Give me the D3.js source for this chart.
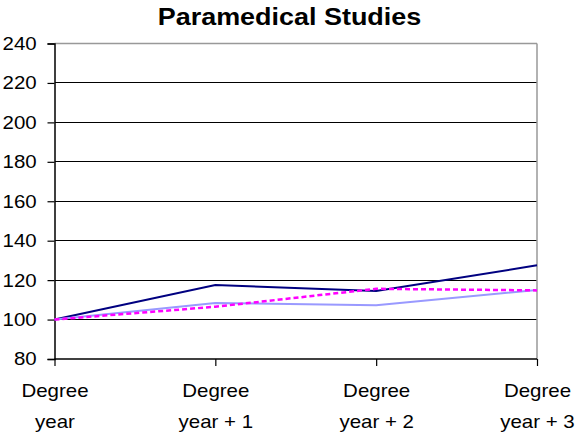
<!DOCTYPE html>
<html>
<head>
<meta charset="utf-8">
<script src="https://cdn.jsdelivr.net/npm/d3@7"></script>
<style>
html,body{margin:0;padding:0;background:#fff;}
svg{display:block;}
text{font-family:"Liberation Sans",Arial,sans-serif;fill:#000;}
</style>
</head>
<body>
<svg id="chart" width="579" height="432"></svg>
<script>
const title = "Paramedical Studies";
const categories = [["Degree","year"],["Degree","year + 1"],["Degree","year + 2"],["Degree","year + 3"]];
const yTicks = [80,100,120,140,160,180,200,220,240];
const seriesNavy = [100, 117.5, 114.5, 127.5];
const seriesLight = [100, 108.4, 107.2, 115];
const seriesMagenta = [100, 106.5, 115.6, 114.8];

const series = [
  {values: seriesNavy, color: "#000080", width: 2, dash: null},
  {values: seriesLight, color: "#9999FF", width: 2, dash: null},
  {values: seriesMagenta, color: "#FF00FF", width: 2.5, dash: "5,3"}
];

const SX = 1.1; // horizontal stretch of the text
const svg = d3.select("#chart");
const L = 54.5, R = 537, T = 43.5, B = 359;
const keys = categories.map((c,i)=>i);
const x = d3.scalePoint().domain(keys).range([L, R]);
const y = d3.scaleLinear().domain([80, 240]).range([B, T]);

// gridlines
svg.append("g").selectAll("line").data(yTicks.filter(v=>v>80 && v<240)).join("line")
  .attr("x1", L).attr("x2", R).attr("y1", d=>y(d)).attr("y2", d=>y(d))
  .attr("stroke", "#000").attr("stroke-width", 1).attr("shape-rendering","crispEdges");

// border top/right grey
svg.append("line").attr("x1", L).attr("x2", R).attr("y1", y(240)).attr("y2", y(240))
  .attr("stroke", "#999").attr("stroke-width", 1.5);
svg.append("line").attr("x1", R).attr("x2", R).attr("y1", T).attr("y2", B)
  .attr("stroke", "#999").attr("stroke-width", 1.5);

// y axis
const yAxis = d3.axisLeft(y).tickValues(yTicks).tickSize(7).tickPadding(9.2).tickFormat(d3.format("d"));
const gy = svg.append("g").attr("transform", `translate(${L},0)`).call(yAxis);
gy.select(".domain").attr("stroke", "#000").attr("stroke-width", 1.5);
gy.selectAll(".tick line").attr("stroke", "#000").attr("stroke-width", 1.2);
gy.selectAll("text").style("font-size", "18.6px").attr("fill", "#000")
  .attr("transform", `scale(${SX},1)`);

// x axis
const xAxis = d3.axisBottom(x).tickSize(7).tickFormat(()=>"");
const gx = svg.append("g").attr("transform", `translate(0,${B})`).call(xAxis);
gx.select(".domain").attr("stroke", "#000").attr("stroke-width", 1.5).attr("d", `M${L},0H${R}`);
gx.selectAll(".tick line").attr("stroke", "#000").attr("stroke-width", 1.2);
gx.selectAll(".tick").each(function(d){
  const t = d3.select(this).append("text").attr("text-anchor","middle")
    .style("font-size","18.6px").attr("transform", `scale(${SX},1)`);
  t.append("tspan").attr("x", 0).attr("y", 38).text(categories[d][0]);
  t.append("tspan").attr("x", 0).attr("y", 69).text(categories[d][1]);
});

// lines
const line = d3.line().x((d,i)=>x(i)).y(d=>y(d));
svg.append("g").selectAll("path").data(series).join("path")
  .attr("d", d=>line(d.values))
  .attr("fill","none")
  .attr("stroke", d=>d.color)
  .attr("stroke-width", d=>d.width)
  .attr("stroke-dasharray", d=>d.dash);

// title
svg.append("g").attr("transform", `translate(289.5,25) scale(${SX},1)`)
  .append("text").attr("x", 0).attr("y", 0).attr("text-anchor","middle")
  .style("font-size","24.5px").style("font-weight","bold").text(title);
</script>
</body>
</html>
